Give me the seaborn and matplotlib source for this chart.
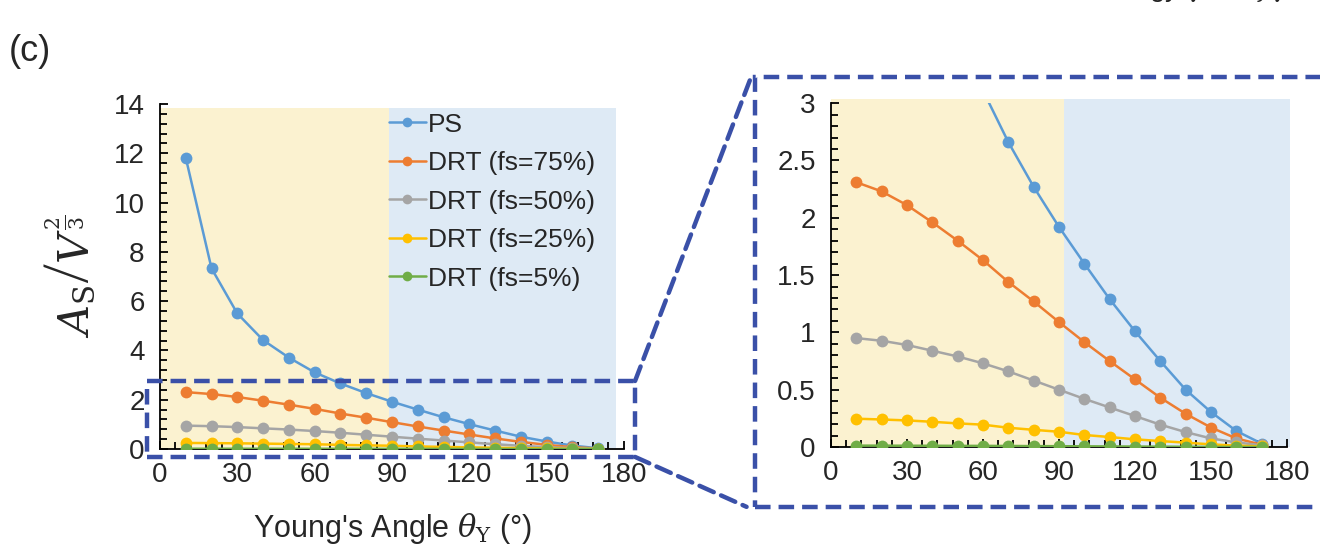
import matplotlib.pyplot as plt
import matplotlib.ticker as mticker
import pandas as pd
import seaborn as sns
from matplotlib.patches import Rectangle, ConnectionPatch

# Data
angles = [10, 20, 30, 40, 50, 60, 70, 80, 90, 100, 110, 120, 130, 140, 150, 160, 170]
ps = [11.82, 7.33, 5.50, 4.42, 3.71, 3.11, 2.66, 2.27, 1.92, 1.60, 1.29, 1.01, 0.75, 0.50, 0.305, 0.14, 0.03]
drt75 = [2.31, 2.23, 2.11, 1.96, 1.80, 1.63, 1.44, 1.27, 1.09, 0.915, 0.75, 0.59, 0.43, 0.29, 0.17, 0.075, 0.02]
drt50 = [0.95, 0.927, 0.89, 0.84, 0.79, 0.73, 0.66, 0.58, 0.50, 0.42, 0.345, 0.27, 0.195, 0.13, 0.075, 0.04, 0.015]
drt25 = [0.247, 0.24, 0.232, 0.22, 0.206, 0.195, 0.168, 0.15, 0.133, 0.105, 0.087, 0.067, 0.052, 0.038, 0.023, 0.012, 0.005]
drt5 = [0.012, 0.012, 0.011, 0.011, 0.010, 0.010, 0.009, 0.008, 0.007, 0.006, 0.005, 0.004, 0.003, 0.002, 0.001, 0.0005, 0.0002]
series_names = ['PS', 'DRT (fs=75%)', 'DRT (fs=50%)', 'DRT (fs=25%)', 'DRT (fs=5%)']
colors = ['#5B9BD5', '#ED7D31', '#A5A5A5', '#FFC000', '#70AD47']
x_ticks = [0, 30, 60, 90, 120, 150, 180]

df = pd.DataFrame({'angle': angles * 5,
                   'value': ps + drt75 + drt50 + drt25 + drt5,
                   'series': sum([[n] * len(angles) for n in series_names], [])})

sns.set_style('white')
plt.rcParams['font.family'] = ['Liberation Sans', 'DejaVu Sans']
plt.rcParams['mathtext.fontset'] = 'dejavuserif'

fig = plt.figure(figsize=(13.2, 5.45), dpi=100)
ax1 = fig.add_axes([0.1212, 0.1761, 0.3515, 0.633])
ax2 = fig.add_axes([0.6295, 0.1798, 0.3455, 0.631])

yellow_bg = '#FBF2D0'
blue_bg = '#DEEAF5'
box_color = '#3A50A8'


def draw_panel(ax, ymax, ymajor, yminor, yellow_end, blue_end, shade_top, legend):
    ax.add_patch(Rectangle((0, 0), yellow_end, shade_top, color=yellow_bg, lw=0, zorder=0, clip_on=False))
    ax.add_patch(Rectangle((yellow_end, 0), blue_end - yellow_end, shade_top, color=blue_bg, lw=0, zorder=0, clip_on=False))
    sns.lineplot(data=df, x='angle', y='value', hue='series', hue_order=series_names,
                 palette=colors, marker='o', markersize=8.5, markeredgewidth=0,
                 linewidth=1.8, ax=ax, legend=legend, zorder=3)
    ax.set_xlim(0, 180)
    ax.set_ylim(0, ymax)
    ax.set_xticks(x_ticks)
    ax.xaxis.set_minor_locator(mticker.MultipleLocator(6))
    ax.yaxis.set_major_locator(mticker.MultipleLocator(ymajor))
    ax.yaxis.set_major_formatter(mticker.FuncFormatter(lambda v, p: '{:g}'.format(v)))
    ax.yaxis.set_minor_locator(mticker.MultipleLocator(yminor))
    ax.tick_params(which='both', direction='in', width=1.3, color='black', labelsize=20)
    ax.tick_params(which='major', length=6)
    ax.tick_params(which='minor', length=5)
    ax.tick_params(axis='x', which='major', pad=9)
    ax.tick_params(axis='y', which='major', pad=11)
    ax.tick_params(axis='x', which='both', bottom=True)
    ax.tick_params(axis='y', which='both', left=True)
    for s in ['top', 'right']:
        ax.spines[s].set_visible(False)
    for s in ['left', 'bottom']:
        ax.spines[s].set_color('black')
        ax.spines[s].set_linewidth(1.3)
    ax.set_facecolor('none')
    ax.set_xlabel('')
    ax.set_ylabel('')


draw_panel(ax1, 14, 2, 0.4, 89, 177, 13.85, True)
draw_panel(ax2, 3, 0.5, 0.1, 92, 181, 3.04, False)

leg = ax1.legend(loc='upper left', bbox_to_anchor=(0.493, 0.975), frameon=False, fontsize=19,
                 handlelength=1.4, handletextpad=0.1, labelspacing=0.55, borderaxespad=0, borderpad=0)
for h in leg.get_lines():
    h.set_linewidth(1.8)
    h.set_markersize(7)

ax1.set_xlabel(r"Young's Angle $\theta_{\mathrm{Y}}$ (°)", fontsize=22, labelpad=17)
ax1.set_ylabel(r'$A_{\mathrm{S}}\left/V^{\frac{2}{3}}\right.$', fontsize=30, labelpad=12)

# zoom indicator boxes
zoom_box = Rectangle((-5, -0.32), 189.3, 3.08, fill=False, ec=box_color, lw=3.2,
                     ls=(0, (3.5, 1.8)), clip_on=False, zorder=5)
ax1.add_patch(zoom_box)
big_box = Rectangle((-0.167, -0.174), 1.25, 1.25, fill=False, ec=box_color, lw=3.2,
                    ls=(0, (3.5, 1.8)), clip_on=False, transform=ax2.transAxes, zorder=5)
ax2.add_patch(big_box)
for (xa, ya), (xb, yb) in [((184.3, 2.76), (-0.175, 1.076)), ((184.3, -0.32), (-0.185, -0.174))]:
    con = ConnectionPatch(xyA=(xa, ya), coordsA=ax1.transData, xyB=(xb, yb), coordsB=ax2.transAxes,
                          color=box_color, lw=3.2, ls=(0, (3.5, 1.8)))
    fig.add_artist(con)

fig.text(0.007, 0.905, '(c)', fontsize=26, va='center')
fig.text(0.985, 1.022, r'surface energy $\gamma_{\mathrm{S}} = \zeta\,\gamma_{\mathrm{S}}$',
         fontsize=20, ha='right', va='center', color='#222222')

fig.savefig('out.png', dpi=100)
